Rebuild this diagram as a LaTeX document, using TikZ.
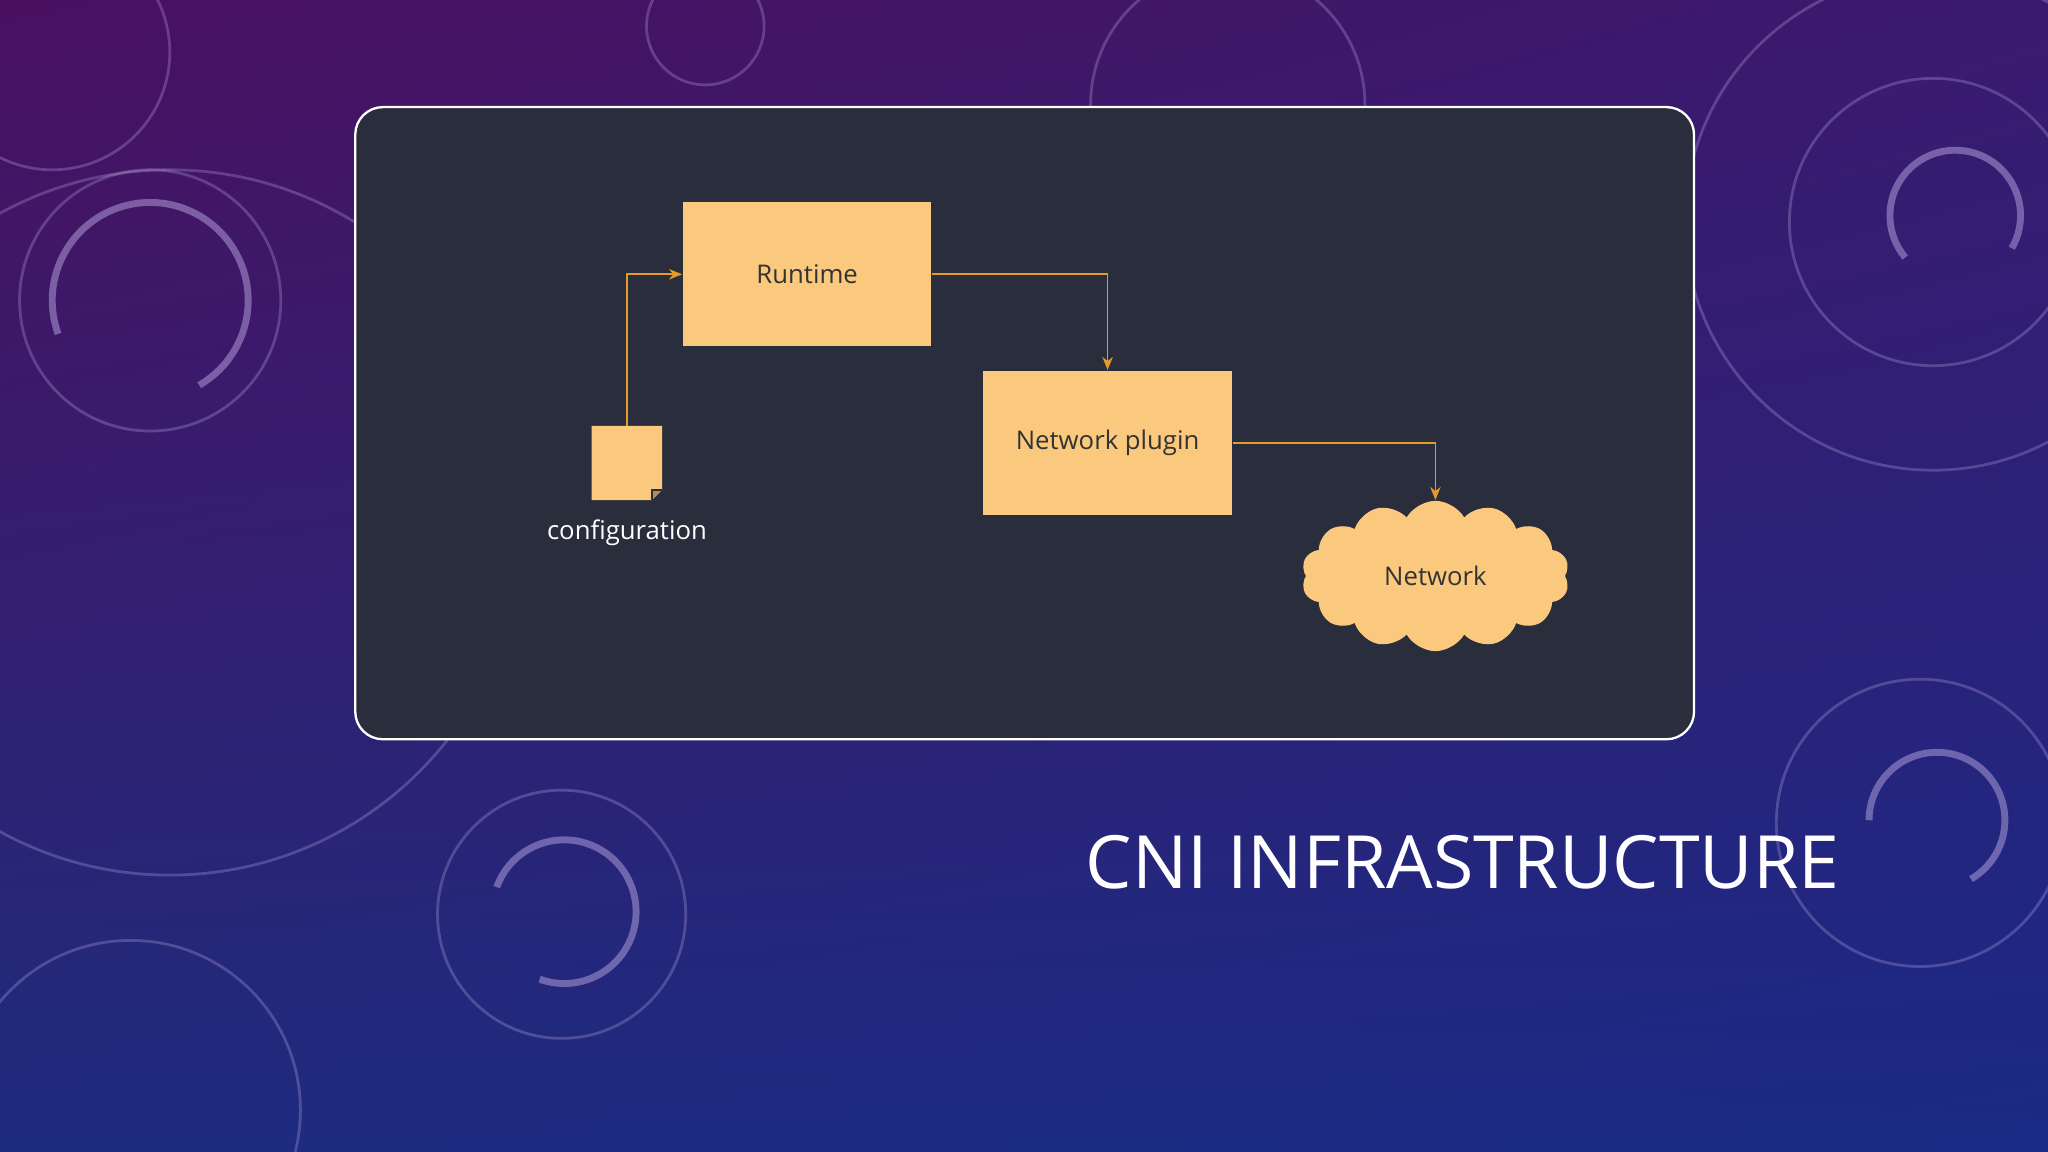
\documentclass[tikz,border=0pt]{standalone}
\usepackage{fontspec}
\setmainfont{Open Sans}
\usetikzlibrary{shapes.symbols,arrows.meta,shadings}
\definecolor{bgA}{HTML}{4A1060}
\definecolor{bgB}{HTML}{3A1A6E}
\definecolor{bgC}{HTML}{1E2C7E}
\definecolor{bgD}{HTML}{1A2A86}
\definecolor{panel}{HTML}{2A2D3B}
\definecolor{boxc}{HTML}{FBC97E}
\definecolor{linec}{HTML}{E59A2A}
\definecolor{deco}{HTML}{B9A6E0}
\tikzset{
  box/.style={draw=none,fill=boxc,minimum width=1.90cm,minimum height=1.10cm,text=black!80,font=\fontsize{5.6pt}{6pt}\selectfont},
  conn/.style={draw=linec,line width=0.35pt,-{Stealth[length=1mm,width=0.8mm]}},
  decoline/.style={draw=deco,opacity=0.3,line width=0.6pt},
  thickarc/.style={draw=deco,opacity=0.5,line width=1.5pt}
}
\begin{document}
\begin{tikzpicture}[x=0.01cm,y=-0.01cm]
\useasboundingbox (0,0) rectangle (1568,882);
\shade[upper left=bgA,upper right=bgB,lower left=bgC,lower right=bgD] (0,0) rectangle (1568,882);
% decorative arcs
\draw[decoline] (115,230) circle (100);
\draw[thickarc] ([shift={(160:75)}]115,230) arc (160:420:75);
\draw[decoline] (130,400) circle (270);
\draw[decoline] (1480,170) circle (190);
\draw[decoline] (1480,170) circle (110);
\draw[thickarc] ([shift={(140:50)}]1497,165) arc (140:390:50);
\draw[decoline] (1470,630) circle (110);
\draw[thickarc] ([shift={(180:52)}]1483,628) arc (180:420:52);
\draw[decoline] (430,700) circle (95);
\draw[thickarc] ([shift={(200:55)}]432,698) arc (200:470:55);
\draw[decoline] (100,850) circle (130);
\draw[decoline] (540,20) circle (45);
\draw[decoline] (940,80) circle (105);
\draw[decoline] (40,40) circle (90);
% panel
\draw[fill=panel,draw=white!45,line width=0.5pt,rounded corners=6] (272,82) rectangle (1297,566);
% nodes
\node[box] (rt) at (618,210) {Runtime};
\node[box] (np) at (848,339) {Network plugin};
\fill[boxc] (453,326) -- (507,326) -- (507,375) -- (499,383) -- (453,383) -- cycle;
\draw[panel,fill=boxc!70!black,line width=0.4pt] (507,375) -- (499,375) -- (499,383);
\coordinate (cfg) at (480,326);
\node[text=white!90,font=\fontsize{5.6pt}{6pt}\selectfont] (cfgl) at (480,408) {configuration};
\node[cloud,cloud puffs=14,cloud puff arc=120,aspect=1.9,fill=boxc,draw=none,minimum width=2.05cm,minimum height=1.15cm,text=black!80,font=\fontsize{5.6pt}{6pt}\selectfont] (net) at (1099,441) {Network};
\draw[conn] (cfg) |- (rt.west);
\draw[conn] (rt.east) -| (np.north);
\draw[conn] (np.east) -| (net.north);
\node[anchor=base east,text=white,font=\fontsize{16pt}{17pt}\selectfont] (title) at (1421,680) {CNI INFRASTRUCTURE};
\end{tikzpicture}
\end{document}
